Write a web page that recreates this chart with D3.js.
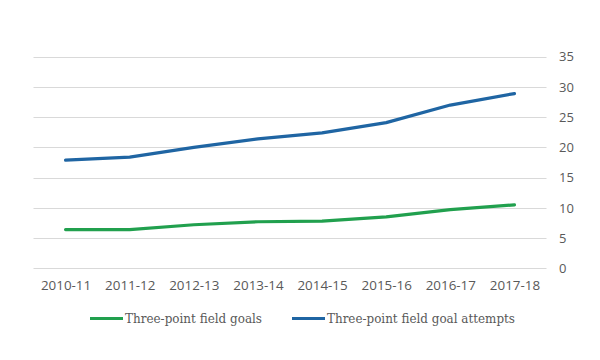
<!DOCTYPE html>
<html><head><meta charset="utf-8">
<script src="https://cdn.jsdelivr.net/npm/d3@7"></script>
<style>body{margin:0;background:#fff}svg{display:block}</style>
</head><body>
<svg id="c" width="600" height="360"></svg>
<script>
const seasons = ["2010-11","2011-12","2012-13","2013-14","2014-15","2015-16","2016-17","2017-18"];
const made = [6.4, 6.4, 7.2, 7.7, 7.8, 8.5, 9.7, 10.5];
const attempts = [17.9, 18.4, 20.0, 21.4, 22.4, 24.1, 27.0, 28.9];
const yTicks = [0,5,10,15,20,25,30,35];
const seriesNames = ["Three-point field goals","Three-point field goal attempts"];
const colors = ["#21a04e","#1f65a3"];

const svg = d3.select("#c");
const x = d3.scalePoint().domain(seasons).range([33.5, 546.5]).padding(0.5);
const y = d3.scaleLinear().domain([0,35]).range([268.3, 56.7]);

const grid = svg.append("g");
grid.selectAll("line").data(yTicks).join("line")
  .attr("x1",33.5).attr("x2",546.5)
  .attr("y1",d=>Math.round(y(d))+0.5).attr("y2",d=>Math.round(y(d))+0.5)
  .attr("stroke","#d9d9d9").attr("stroke-width",1);

const yAxis = d3.axisRight(y).tickValues(yTicks).tickSize(0).tickPadding(0);
const ya = svg.append("g").attr("transform","translate(559,0)").call(yAxis);
ya.select(".domain").remove();
ya.selectAll("text").attr("font-family","Open Sans, sans-serif").attr("font-size","13px").attr("fill","#595959");

const xAxis = d3.axisBottom(x).tickSize(0).tickPadding(0);
const xa = svg.append("g").attr("transform","translate(0,280)").call(xAxis);
xa.select(".domain").remove();
xa.selectAll("text").attr("font-family","Open Sans, sans-serif").attr("font-size","13.4px").attr("fill","#595959");

const line = d3.line().x((d,i)=>x(seasons[i])).y(d=>y(d));
[made, attempts].forEach((s,k)=>{
  svg.append("path").datum(s).attr("d",line)
    .attr("fill","none").attr("stroke",colors[k]).attr("stroke-width",3.2)
    .attr("stroke-linejoin","round").attr("stroke-linecap","round");
});

const legX = [90, 292];
const legEnd = [262, 515];
const lg = svg.append("g");
seriesNames.forEach((n,k)=>{
  lg.append("line").attr("x1",legX[k]).attr("x2",legX[k]+33).attr("y1",318.5).attr("y2",318.5)
    .attr("stroke",colors[k]).attr("stroke-width",3);
  lg.append("text").attr("x",legX[k]+35).attr("y",323).text(n)
    .attr("font-family","DejaVu Serif, serif").attr("font-size","12.5px").attr("fill","#595959")
    .attr("textLength", legEnd[k]-legX[k]-35).attr("lengthAdjust","spacingAndGlyphs");
});
</script>
</body></html>
